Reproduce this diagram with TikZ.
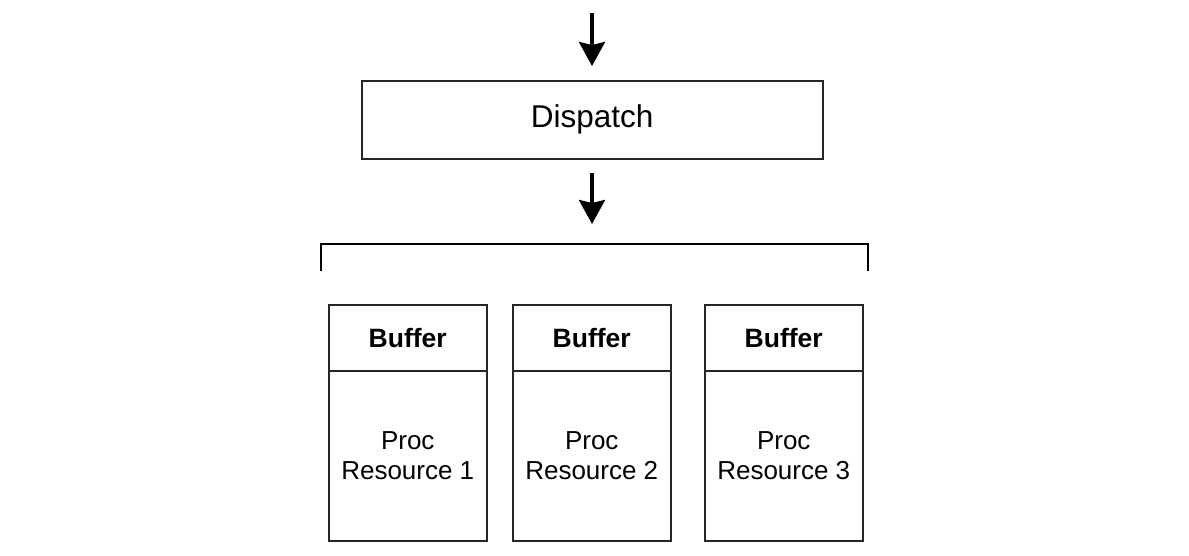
\documentclass[tikz,border=0pt]{standalone}
\usepackage{fontspec}
\setmainfont{Liberation Sans}
\usetikzlibrary{arrows.meta}
\begin{document}
\begin{tikzpicture}[x=1pt,y=-1pt,
  box/.style={draw=black!85, line width=1.5pt, fill=white, inner sep=0pt, anchor=north west},
  bigarrow/.style={line width=3.2pt, -{Stealth[length=24pt,width=26pt,inset=3pt]}},
  bracketline/.style={line width=2pt, line cap=rect}
]
\useasboundingbox (0,0) rectangle (1189,555);
% Dispatch
\node[box, minimum width=461pt, minimum height=78pt] (dispatch) at (361,80) {};
\node at (dispatch.center) {\fontsize{31.5}{36}\selectfont Dispatch};
% arrows
\coordinate (a1s) at (592,13);
\coordinate (a1e) at (592,66);
\draw[bigarrow] (a1s) -- (a1e);
\coordinate (a2s) at (592,173);
\coordinate (a2e) at (592,224);
\draw[bigarrow] (a2s) -- (a2e);
% bracket
\coordinate (bl) at (321,270);
\coordinate (blt) at (321,244);
\coordinate (brt) at (868,244);
\coordinate (br) at (868,270);
\draw[bracketline] (bl) -- (blt) -- (brt) -- (br);
% boxes
\foreach \x/\n in {328/1,512/2,704/3}{
  \node[box, minimum width=158pt, minimum height=66pt] (buf\n) at (\x,304) {};
  \node[font=\fontsize{26.5}{31}\selectfont\bfseries] at (buf\n.center) {Buffer};
  \node[box, minimum width=158pt, minimum height=170pt] (proc\n) at (\x,370) {};
  \node[font=\fontsize{26}{30}\selectfont, align=center] at (proc\n.center) {Proc\\Resource \n};
}
\end{tikzpicture}
\end{document}
